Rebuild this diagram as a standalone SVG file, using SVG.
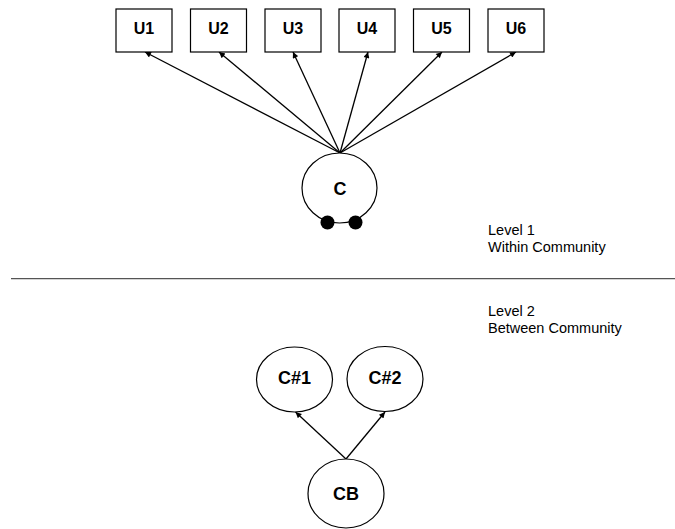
<svg xmlns="http://www.w3.org/2000/svg" width="675" height="529" viewBox="0 0 675 529">
  <style>
    .box { fill: #fff; stroke: #000; stroke-width: 1.2; }
    .node { fill: #fff; stroke: #000; stroke-width: 1.2; }
    .lbl { font-family: "Liberation Sans", Arial, sans-serif; font-size: 16px; font-weight: bold; text-anchor: middle; fill: #000; }
    .big { font-size: 18px; }
    .note { font-family: "Liberation Sans", Arial, sans-serif; font-size: 14.5px; fill: #000; }
    .edge { stroke: #000; stroke-width: 1.3; fill: none; marker-end: url(#arrow); }
  </style>
  <defs>
    <marker id="arrow" viewBox="0 0 10 10" refX="10" refY="5" markerWidth="8" markerHeight="6" markerUnits="userSpaceOnUse" orient="auto">
      <path d="M0,0 L10,5 L0,10 z" fill="#000"/>
    </marker>
  </defs>
  <rect width="675" height="529" fill="#fff"/>

  <!-- connectors -->
  <g id="connectors">
    <line class="edge" x1="340" y1="153" x2="145" y2="52"/>
    <line class="edge" x1="340" y1="153" x2="219" y2="52"/>
    <line class="edge" x1="340" y1="153" x2="293" y2="52"/>
    <line class="edge" x1="340" y1="153" x2="368" y2="52"/>
    <line class="edge" x1="340" y1="153" x2="442" y2="52"/>
    <line class="edge" x1="340" y1="153" x2="516" y2="52"/>
    <line class="edge" x1="346" y1="459" x2="295.5" y2="412"/>
    <line class="edge" x1="346" y1="459" x2="385" y2="412"/>
  </g>

  <!-- user boxes -->
  <g id="U1"><rect class="box" x="116" y="9" width="56" height="43"/><text class="lbl" x="144" y="34">U1</text></g>
  <g id="U2"><rect class="box" x="190.5" y="9" width="56" height="43"/><text class="lbl" x="218.5" y="34">U2</text></g>
  <g id="U3"><rect class="box" x="265" y="9" width="56" height="43"/><text class="lbl" x="293" y="34">U3</text></g>
  <g id="U4"><rect class="box" x="339" y="9" width="56" height="43"/><text class="lbl" x="367" y="34">U4</text></g>
  <g id="U5"><rect class="box" x="413.5" y="9" width="56" height="43"/><text class="lbl" x="441.5" y="34">U5</text></g>
  <g id="U6"><rect class="box" x="488" y="9" width="56" height="43"/><text class="lbl" x="516" y="34">U6</text></g>

  <!-- community node with its two members on the rim -->
  <g id="C">
    <ellipse class="node" cx="339.5" cy="188" rx="37.5" ry="35"/>
    <text class="lbl big" x="340" y="195">C</text>
    <circle cx="327.5" cy="222.5" r="7" fill="#000"/>
    <circle cx="355.5" cy="222.5" r="7" fill="#000"/>
  </g>

  <!-- level notes and divider -->
  <g id="level1">
    <text class="note" x="488" y="235">Level 1</text>
    <text class="note" x="488" y="252">Within Community</text>
  </g>
  <line id="divider" x1="11" y1="278.7" x2="675" y2="278.7" stroke="#555" stroke-width="1.3"/>
  <g id="level2">
    <text class="note" x="488" y="316">Level 2</text>
    <text class="note" x="488" y="333">Between Community</text>
  </g>

  <!-- between-community nodes -->
  <g id="C1"><ellipse class="node" cx="294.5" cy="379.5" rx="38" ry="32.5"/><text class="lbl big" x="294.5" y="384">C#1</text></g>
  <g id="C2"><ellipse class="node" cx="385" cy="379" rx="38" ry="32.5"/><text class="lbl big" x="385" y="383.5">C#2</text></g>
  <g id="CB"><ellipse class="node" cx="346" cy="493.5" rx="38" ry="34.5"/><text class="lbl big" x="346" y="500">CB</text></g>
</svg>
